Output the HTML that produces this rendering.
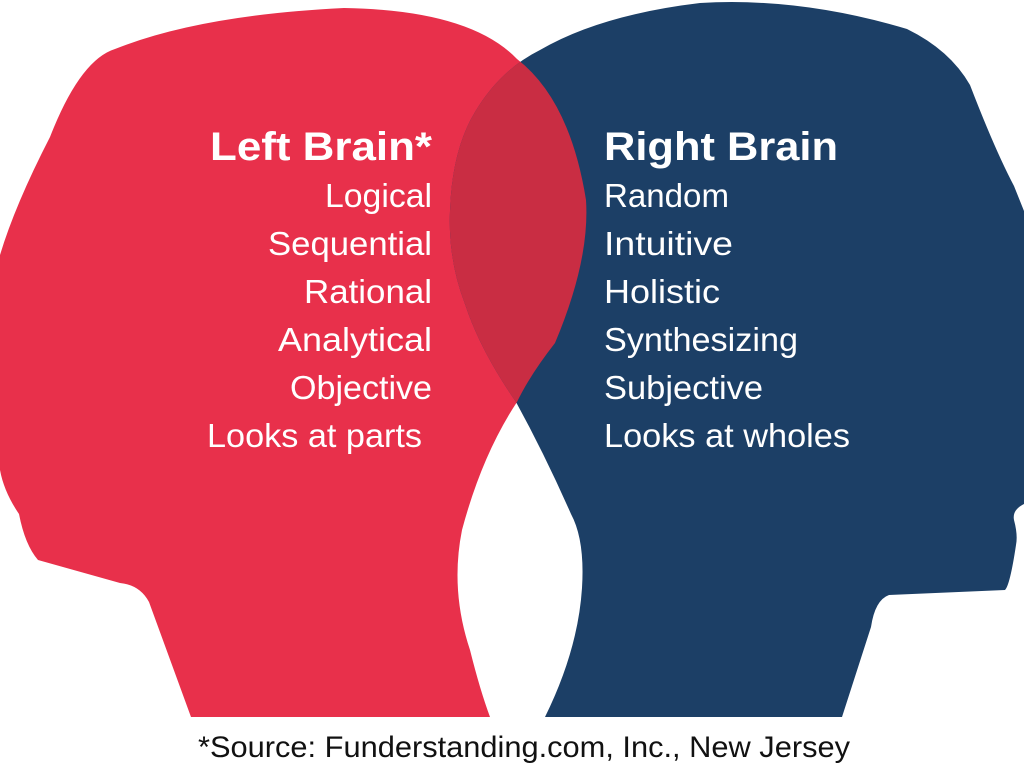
<!DOCTYPE html>
<html><head><meta charset="utf-8"><style>
html,body{margin:0;padding:0;background:#fff;width:1024px;height:768px;overflow:hidden}
svg{display:block}
text{font-family:"Liberation Sans",sans-serif}
</style></head><body>
<svg width="1024" height="768" viewBox="0 0 1024 768">
<defs>
<path id="red" d="M191,717 L149,602 Q140,585 120,583 L38,560 Q25,545 19,514 Q4,492 0,470 L0,255 Q15,205 50,137 Q80,60 115,49 Q200,15 344,8 Q470,10 517,59 Q570,100 586,200 Q590,260 555,343 Q530,375 517,402 Q482,455 462,530 Q450,590 470,650 Q480,690 490,717 Z"/>
<path id="blue" d="M545,717 Q578,650 582,588 Q585,540 571,514 Q545,455 516,402 Q480,350 465,304 Q448,260 450,211 Q452,150 475,112 Q500,70 540,50 Q600,15 700,3 Q800,-3 907,29 Q950,50 970,85 Q995,150 1014,186 L1024,211 L1024,504 Q1012,510 1014,520 Q1018,535 1016,545 Q1010,585 1005,590 L889,595 Q875,600 871,627 L842,717 Z"/>
<clipPath id="bc"><use href="#blue"/></clipPath>
</defs>
<use href="#red" fill="#e8304b"/>
<use href="#blue" fill="#1c3f66"/>
<use href="#red" fill="#c92d43" clip-path="url(#bc)"/>
<g fill="#fff">
<text x="210" y="160" font-size="40" font-weight="bold" textLength="222" lengthAdjust="spacingAndGlyphs">Left Brain*</text>
<g font-size="33">
<text x="325" y="207" textLength="107" lengthAdjust="spacingAndGlyphs">Logical</text>
<text x="268" y="255" textLength="164" lengthAdjust="spacingAndGlyphs">Sequential</text>
<text x="304" y="303" textLength="128" lengthAdjust="spacingAndGlyphs">Rational</text>
<text x="278" y="351" textLength="154" lengthAdjust="spacingAndGlyphs">Analytical</text>
<text x="290" y="399" textLength="142" lengthAdjust="spacingAndGlyphs">Objective</text>
<text x="207" y="447" textLength="215" lengthAdjust="spacingAndGlyphs">Looks at parts</text>
</g>
<text x="604" y="160" font-size="40" font-weight="bold" textLength="234" lengthAdjust="spacingAndGlyphs">Right Brain</text>
<g font-size="33">
<text x="604" y="207" textLength="125" lengthAdjust="spacingAndGlyphs">Random</text>
<text x="604" y="255" textLength="129" lengthAdjust="spacingAndGlyphs">Intuitive</text>
<text x="604" y="303" textLength="116" lengthAdjust="spacingAndGlyphs">Holistic</text>
<text x="604" y="351" textLength="194" lengthAdjust="spacingAndGlyphs">Synthesizing</text>
<text x="604" y="399" textLength="159" lengthAdjust="spacingAndGlyphs">Subjective</text>
<text x="604" y="447" textLength="246" lengthAdjust="spacingAndGlyphs">Looks at wholes</text>
</g>
</g>
<text x="198" y="757" font-size="30" fill="#111" textLength="652" lengthAdjust="spacingAndGlyphs">*Source: Funderstanding.com, Inc., New Jersey</text>
</svg>
</body></html>
